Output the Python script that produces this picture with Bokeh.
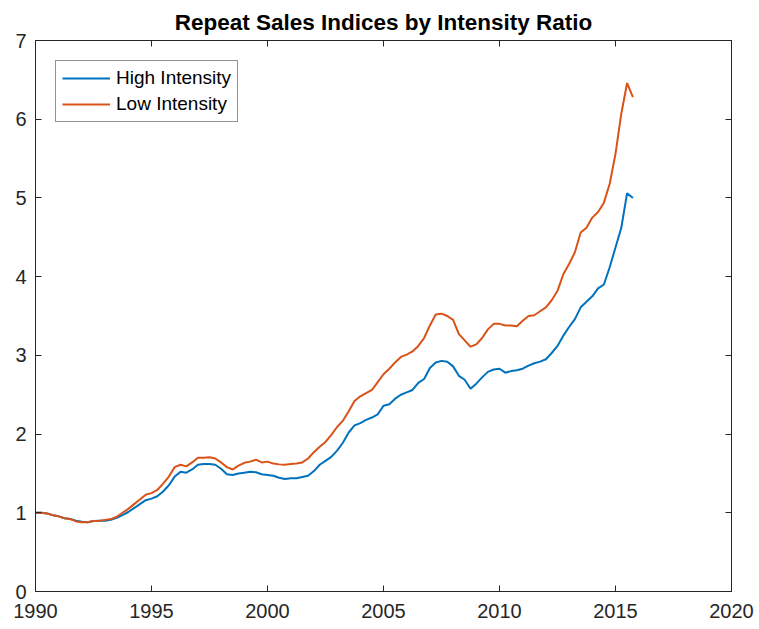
from bokeh.plotting import figure
from bokeh.models import Range1d, LinearAxis, FixedTicker, Legend, LegendItem
from bokeh.embed import file_html
from bokeh.resources import INLINE

start_year = 1990.0
high_intensity = [
    1.00, 1.00, 0.99, 0.97,
    0.955, 0.93, 0.92, 0.90,
    0.885, 0.88, 0.895, 0.90,
    0.90, 0.91, 0.935, 0.97,
    1.01, 1.06, 1.11, 1.16,
    1.18, 1.21, 1.27, 1.35,
    1.46, 1.52, 1.51, 1.55,
    1.61, 1.62, 1.62, 1.61,
    1.56, 1.49, 1.48, 1.50,
    1.51, 1.52, 1.515, 1.49,
    1.48, 1.47, 1.445, 1.43,
    1.44, 1.44, 1.455, 1.47,
    1.53, 1.61, 1.66, 1.71,
    1.79, 1.89, 2.02, 2.11,
    2.14, 2.18, 2.21, 2.25,
    2.36, 2.38, 2.45, 2.50,
    2.53, 2.56, 2.65, 2.70,
    2.84, 2.91, 2.93, 2.92,
    2.86, 2.74, 2.69, 2.575,
    2.64, 2.72, 2.79, 2.82,
    2.83, 2.78, 2.80, 2.81,
    2.83, 2.87, 2.90, 2.92,
    2.95, 3.03, 3.12, 3.25,
    3.36, 3.46, 3.61, 3.68,
    3.75, 3.85, 3.90, 4.12,
    4.37, 4.62, 5.06, 5.00,
]
low_intensity = [
    1.00, 1.00, 0.99, 0.97,
    0.955, 0.93, 0.92, 0.89,
    0.88, 0.88, 0.895, 0.90,
    0.91, 0.92, 0.95, 1.00,
    1.05, 1.11, 1.17, 1.23,
    1.25, 1.29, 1.37, 1.46,
    1.58, 1.61, 1.59, 1.64,
    1.70, 1.70, 1.705, 1.69,
    1.64, 1.58, 1.55, 1.60,
    1.635, 1.65, 1.675, 1.64,
    1.65, 1.625, 1.615, 1.61,
    1.62, 1.625, 1.64, 1.69,
    1.77, 1.84, 1.90, 1.99,
    2.09, 2.17, 2.29, 2.42,
    2.48, 2.52, 2.56, 2.66,
    2.76, 2.83, 2.91, 2.98,
    3.01, 3.05, 3.12, 3.22,
    3.38, 3.52, 3.53, 3.50,
    3.45, 3.27, 3.19, 3.11,
    3.14, 3.22, 3.33, 3.40,
    3.40, 3.38, 3.38, 3.37,
    3.44, 3.50, 3.51, 3.56,
    3.61, 3.70, 3.82, 4.03,
    4.16, 4.31, 4.56, 4.62,
    4.75, 4.82, 4.94, 5.18,
    5.56, 6.07, 6.46, 6.28,
]
years = [start_year + 0.25 * i for i in range(len(high_intensity))]
x_ticks = [1990, 1995, 2000, 2005, 2010, 2015, 2020]
y_ticks = [0, 1, 2, 3, 4, 5, 6, 7]

FONT = "Liberation Sans"
AX = "#262626"

p = figure(width=759, height=629, output_backend="svg", toolbar_location=None,
           x_range=Range1d(1990, 2020), y_range=Range1d(0, 7),
           min_border_left=35, min_border_right=28, min_border_top=40, min_border_bottom=38,
           title="Repeat Sales Indices by Intensity Ratio")
p.title.text_font = FONT
p.title.text_font_size = "22.5px"
p.title.text_font_style = "bold"
p.title.align = "center"
p.title.text_color = "#000000"
p.title.standoff = 11
p.xgrid.visible = False
p.ygrid.visible = False
p.outline_line_color = AX
p.outline_line_width = 1

def style(ax, ticks, show_labels=True):
    ax.ticker = FixedTicker(ticks=ticks)
    ax.major_tick_in = 6
    ax.major_tick_out = 0
    ax.minor_tick_in = 0
    ax.minor_tick_out = 0
    ax.axis_line_color = AX
    ax.major_tick_line_color = AX
    ax.major_label_text_font = FONT
    ax.major_label_text_font_size = "20px"
    ax.major_label_text_color = AX
    if not show_labels:
        ax.major_label_text_alpha = 0
        ax.major_label_text_font_size = "1px"
        ax.major_label_standoff = 0

for ax in p.xaxis:
    style(ax, x_ticks)
    ax.major_label_standoff = 12
for ax in p.yaxis:
    style(ax, y_ticks)
    ax.major_label_standoff = 9

top_ax = LinearAxis()
style(top_ax, x_ticks, show_labels=False)
p.add_layout(top_ax, "above")
right_ax = LinearAxis()
style(right_ax, y_ticks, show_labels=False)
p.add_layout(right_ax, "right")

r1 = p.line(years, high_intensity, line_color="#0072BD", line_width=2)
r2 = p.line(years, low_intensity, line_color="#D95319", line_width=2)

legend = Legend(items=[LegendItem(label="High Intensity", renderers=[r1]),
                       LegendItem(label="Low Intensity", renderers=[r2])],
                location="top_left")
legend.margin = 20
legend.padding = 6
legend.spacing = 4
legend.label_height = 22
legend.glyph_height = 22
legend.glyph_width = 48
legend.label_standoff = 6
legend.label_text_font = FONT
legend.label_text_font_size = "19px"
legend.label_text_color = "#000000"
legend.border_line_color = AX
legend.border_line_width = 1
legend.background_fill_color = "white"
p.add_layout(legend, "center")

open("out.html", "w").write(file_html(p, INLINE))
